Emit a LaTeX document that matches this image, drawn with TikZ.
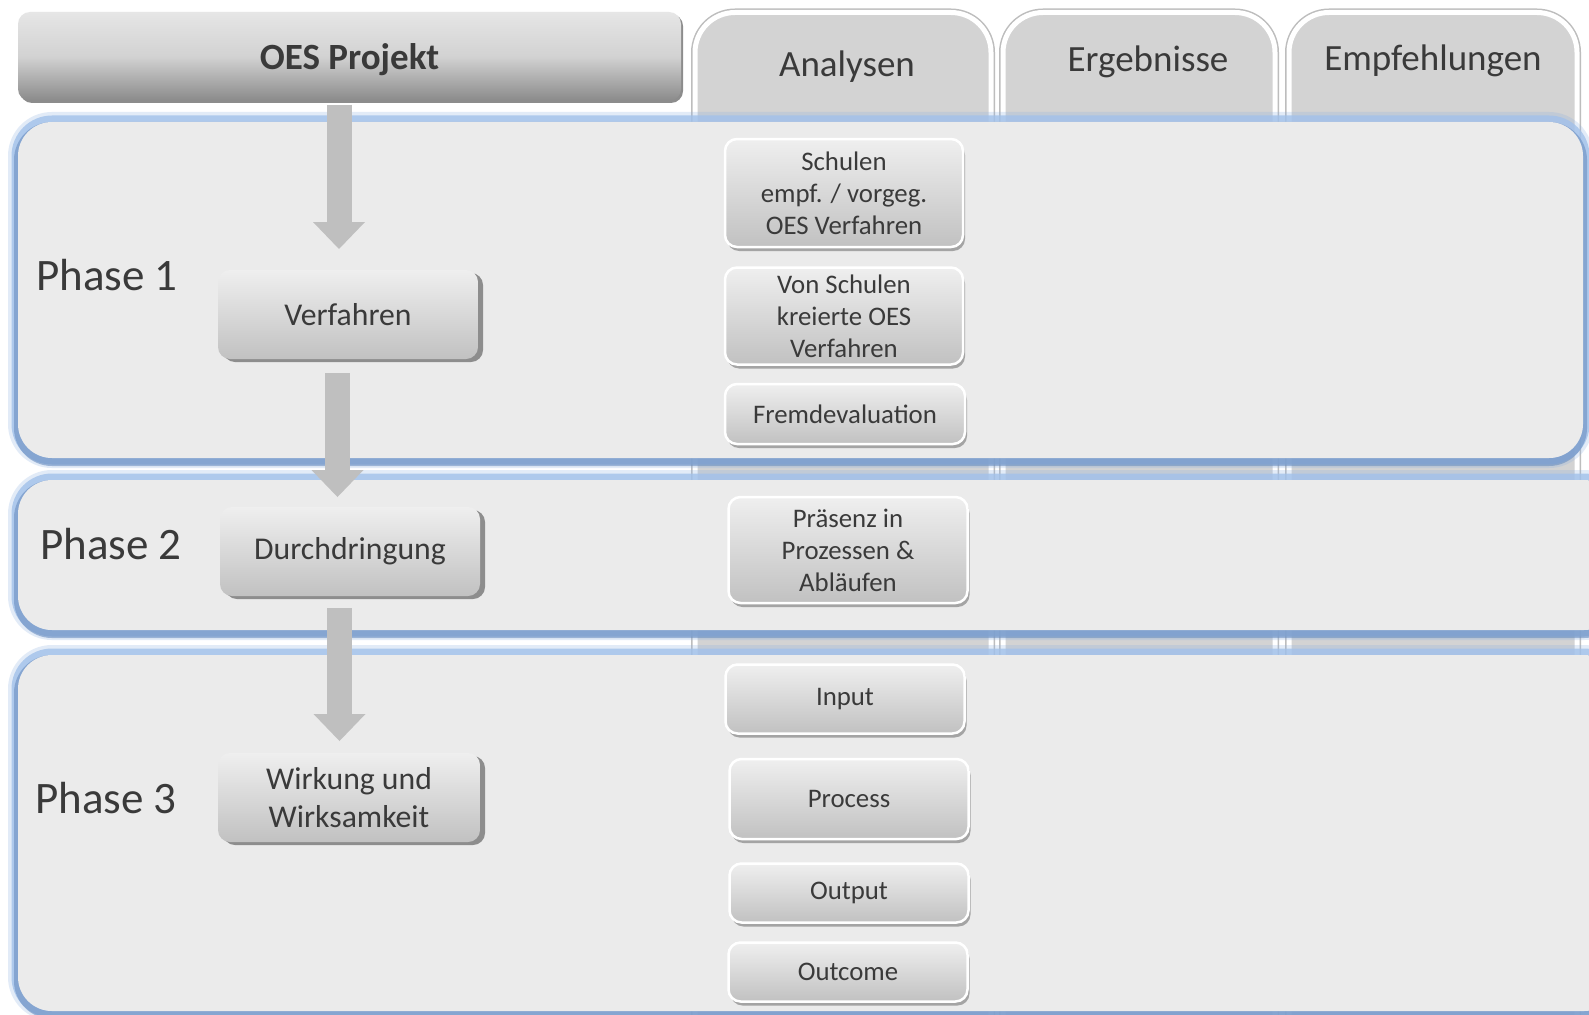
\documentclass[tikz,border=0pt]{standalone}
\usepackage{fontspec}
\setmainfont{Carlito}
\usetikzlibrary{shadows,arrows.meta}
\definecolor{txt}{HTML}{3A3A3A}
\definecolor{boxtop}{HTML}{EFEFEF}
\definecolor{boxbot}{HTML}{C1C1C1}
\definecolor{phasefill}{HTML}{EBEBEB}
\definecolor{glow}{HTML}{8DB1E2}
\definecolor{glowlight}{HTML}{A2C1EA}
\definecolor{glowdark}{HTML}{6A8EC0}
\definecolor{tabfill}{HTML}{D3D3D3}
\definecolor{tabedge}{HTML}{BDBDBD}
\definecolor{arrowgray}{HTML}{BFBFBF}
\definecolor{oestop}{HTML}{E6E6E6}
\definecolor{oesmid}{HTML}{D2D2D2}
\definecolor{oesbot}{HTML}{8A8A8A}
\begin{document}
\begin{tikzpicture}[x=1pt,y=-1pt,
  tab/.style={rectangle, rounded corners=40pt, fill=tabfill, draw=white, line width=5pt,
    preaction={draw=tabedge, line width=8pt}, inner sep=0pt, anchor=north},
  tabtext/.style={text=txt, font=\fontsize{37}{44}\selectfont, inner sep=0pt},
  phasebox/.style={rectangle, rounded corners=34pt, fill=phasefill, inner sep=0pt,
    preaction={draw=glow, line width=20pt, opacity=0.25},
    preaction={draw=glowlight, line width=13pt, opacity=0.8},
    preaction={draw=glowdark, line width=8pt, opacity=0.6, transform canvas={yshift=-4pt}}},
  phaselbl/.style={text=txt, font=\fontsize{45}{50}\selectfont, inner sep=0pt},
  oesbox/.style={rectangle, rounded corners=12pt, top color=oestop, bottom color=oesbot, middle color=oesmid,
    draw=none, inner sep=0pt, text=txt, font=\bfseries\fontsize{37}{44}\selectfont, text depth=0pt,
    drop shadow={shadow xshift=2pt, shadow yshift=-2pt, opacity=0.45, fill=black}},
  leftbox/.style={rectangle, rounded corners=12pt, top color=boxtop, bottom color=boxbot,
    draw=none, inner sep=0pt, align=center, text=txt, font=\fontsize{31.7}{38.5}\selectfont,
    minimum width=260pt, minimum height=89pt,
    drop shadow={shadow xshift=5pt, shadow yshift=-3pt, opacity=0.4, fill=black}},
  smallbox/.style={rectangle, rounded corners=12pt, top color=boxtop, bottom color=boxbot,
    draw=white, line width=2.5pt, inner sep=0pt, align=center, text=txt,
    font=\fontsize{26.8}{32}\selectfont, minimum width=238pt,
    drop shadow={shadow xshift=2pt, shadow yshift=-4pt, opacity=0.3, fill=black}},
  bigarrow/.style={draw=arrowgray, line width=25pt, -{Triangle[length=27pt,width=52pt,line width=0pt]}}
]
\path[use as bounding box] (0,0) rectangle (1589,1014);
\clip (0,0) rectangle (1589,1014);
\fill[white] (0,0) rectangle (1589,1014);

% column tabs
\node[tab, minimum width=296pt, minimum height=1060pt] (tabA) at (843,10) {};
\node[tab, minimum width=272pt, minimum height=1060pt] (tabE) at (1139,10) {};
\node[tab, minimum width=288pt, minimum height=1060pt] (tabF) at (1433,10) {};
\node[tabtext] (lblA) at (847,67) {Analysen};
\node[tabtext] (lblE) at (1148,62) {Ergebnisse};
\node[tabtext] (lblF) at (1433,61) {Empfehlungen};

% phase panels
\node[phasebox, minimum width=1565pt, minimum height=336pt] (ph1) at (800.5,290) {};
\node[phasebox, minimum width=1600pt, minimum height=150pt] (ph2) at (818,555) {};
\node[phasebox, minimum width=1600pt, minimum height=356pt] (ph3) at (818,833) {};

\node[phaselbl] (p1) at (107,275) {Phase 1};
\node[phaselbl] (p2) at (111,544) {Phase 2};
\node[phaselbl] (p3) at (106,798) {Phase 3};

% header box
\node[oesbox, minimum width=663pt, minimum height=89pt] (oes) at (349.5,56.5) {OES Projekt};

% left boxes
\node[leftbox] (verf) at (348,314.5) {Verfahren};
\node[leftbox] (durch) at (350,551.5) {Durchdringung};
\node[leftbox, minimum width=262pt] (wirk) at (349,797.5) {Wirkung und\\Wirksamkeit};

% arrows
\coordinate (a1s) at (339,105);
\coordinate (a1e) at (339,249);
\coordinate (a2s) at (337.5,373);
\coordinate (a2e) at (337.5,497);
\coordinate (a3s) at (339.5,608);
\coordinate (a3e) at (339.5,741);
\draw[bigarrow] (a1s) -- (a1e);
\draw[bigarrow] (a2s) -- (a2e);
\draw[bigarrow] (a3s) -- (a3e);

% analysis boxes
\node[smallbox, minimum height=108pt] (s1) at (844,193) {Schulen\\empf. / vorgeg.\\OES Verfahren};
\node[smallbox, minimum height=97pt] (s2) at (844,316) {Von Schulen\\kreierte OES\\Verfahren};
\node[smallbox, minimum width=240pt, minimum height=60pt] (s3) at (845,414) {Fremdevaluation};
\node[smallbox, minimum width=239pt, minimum height=106pt] (s4) at (848,550) {Präsenz in\\Prozessen \&\\Abläufen};
\node[smallbox, minimum width=239pt, minimum height=69pt] (s5) at (845,699) {Input};
\node[smallbox, minimum width=239pt, minimum height=80pt] (s6) at (849,799) {Process};
\node[smallbox, minimum width=239pt, minimum height=59pt] (s7) at (849,893) {Output};
\node[smallbox, minimum width=239pt, minimum height=59pt] (s8) at (848,972) {Outcome};
\end{tikzpicture}
\end{document}
